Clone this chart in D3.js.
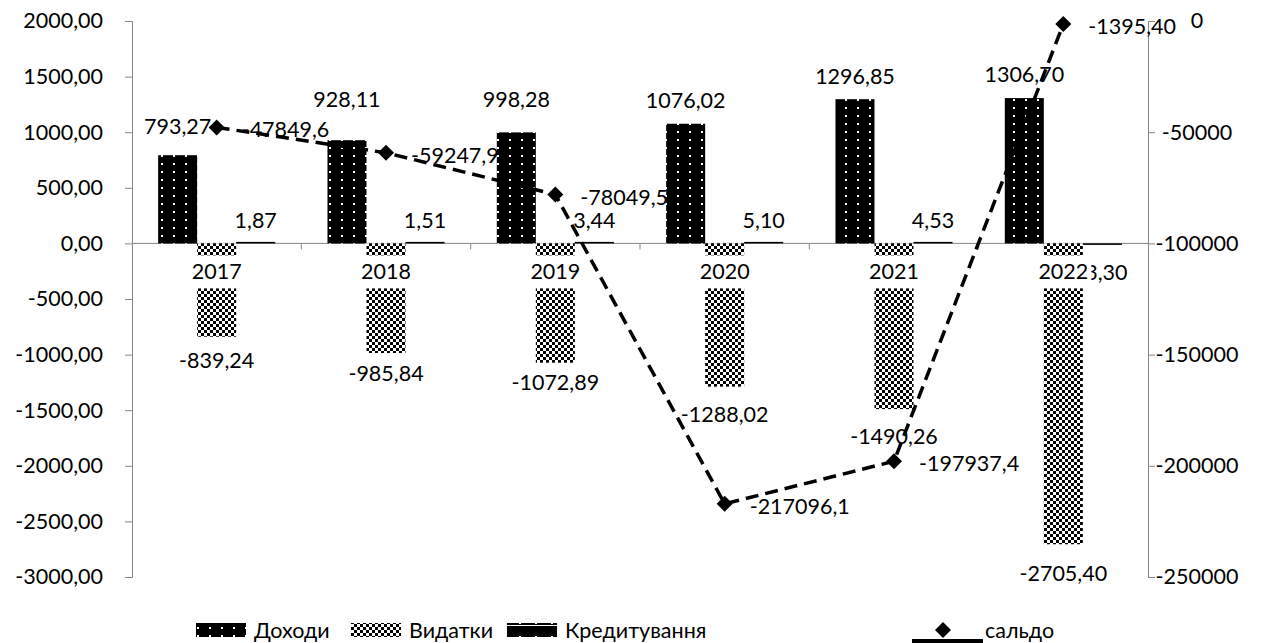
<!DOCTYPE html>
<html>
<head>
<meta charset="utf-8">
<script src="https://cdn.jsdelivr.net/npm/d3@7"></script>
<style>
  body { margin: 0; background: #fff; }
  svg text { font-family: Lato, "Open Sans", sans-serif; font-size: 21.5px; fill: #000; }
</style>
</head>
<body>
<div id="chart"></div>
<script>
// budget data
const years = ['2017', '2018', '2019', '2020', '2021', '2022'];
const seriesNames = ['Доходи', 'Видатки', 'Кредитування'];
const income = [793.27, 928.11, 998.28, 1076.02, 1296.85, 1306.70];
const spending = [-839.24, -985.84, -1072.89, -1288.02, -1490.26, -2705.40];
const lending = [1.87, 1.51, 3.44, 5.10, 4.53, -3.30];
const balance = [-47849.6, -59247.9, -78049.5, -217096.1, -197937.4, -1395.40];
const balanceLabels = ['-47849,6', '-59247,9', '-78049,5', '-217096,1', '-197937,4', '-1395,40'];
const leftTicks = [-3000, -2500, -2000, -1500, -1000, -500, 0, 500, 1000, 1500, 2000];
const rightTicks = [-250000, -200000, -150000, -100000, -50000, 0];

// label nudges (pixels), the original labels were moved by hand
const incomeLift = [29, 41, 33, 24, 23, 24];
const spendingDrop = [23, 20, 19, 27, 27, 29];

const width = 1275, height = 643;
const axisColor = '#868686';

const loc = d3.formatLocale({decimal: ',', thousands: '', grouping: [3], currency: ['', ''], minus: '-'});
const f2 = loc.format('.2f');
const f0 = loc.format('d');

const svg = d3.select('#chart').append('svg')
    .attr('width', width)
    .attr('height', height);

const defs = svg.append('defs');

// Доходи: black with white dots
const pInc = defs.append('pattern').attr('id', 'pInc')
    .attr('patternUnits', 'userSpaceOnUse').attr('width', 12).attr('height', 8);
pInc.append('rect').attr('width', 12).attr('height', 8).attr('fill', '#000');
pInc.append('rect').attr('x', 5).attr('y', 3).attr('width', 2).attr('height', 2).attr('fill', '#fff');

// Видатки: checks
const pSp = defs.append('pattern').attr('id', 'pSp')
    .attr('patternUnits', 'userSpaceOnUse').attr('width', 6).attr('height', 6);
pSp.append('rect').attr('width', 6).attr('height', 6).attr('fill', '#fff');
pSp.append('rect').attr('x', 0).attr('y', 0).attr('width', 3).attr('height', 3).attr('fill', '#000');
pSp.append('rect').attr('x', 3).attr('y', 3).attr('width', 3).attr('height', 3).attr('fill', '#000');

// Кредитування: black with a white stripe (legend swatch)
const pLe = defs.append('pattern').attr('id', 'pLe')
    .attr('patternUnits', 'userSpaceOnUse').attr('width', 16).attr('height', 14);
pLe.append('rect').attr('width', 16).attr('height', 14).attr('fill', '#000');
pLe.append('rect').attr('x', 0).attr('y', 9).attr('width', 16).attr('height', 1).attr('fill', '#fff');
pLe.append('rect').attr('x', 7).attr('y', 6).attr('width', 2).attr('height', 2).attr('fill', '#fff');

const fills = ['url(#pInc)', 'url(#pSp)', 'url(#pLe)'];
const barFills = ['url(#pInc)', 'url(#pSp)', '#000'];

const x = d3.scaleBand().domain(years).range([132, 1148]);
const xs = d3.scaleBand().domain(seriesNames).range([0, x.bandwidth()]).paddingOuter(0.67);
const yL = d3.scaleLinear().domain([-3000, 2000]).range([577, 21]);
const yR = d3.scaleLinear().domain([-250000, 0]).range([577, 21]);
const y0 = yL(0);

// left axis
const gL = svg.append('g')
    .attr('transform', 'translate(132,0)')
    .call(d3.axisLeft(yL).tickValues(leftTicks).tickFormat(f2).tickSize(7).tickPadding(22));

// right axis
const gR = svg.append('g')
    .attr('transform', 'translate(1148,0)')
    .call(d3.axisRight(yR).tickValues(rightTicks).tickFormat(f0).tickSize(7));
gR.selectAll('text').attr('text-anchor', 'middle').attr('x', 49);

[gL, gR].forEach(g => {
    g.select('.domain').attr('stroke', axisColor);
    g.selectAll('.tick line').attr('stroke', axisColor);
    g.selectAll('text').attr('font-family', null).attr('font-size', null);
});

// category axis line with ticks between categories
svg.append('line')
    .attr('x1', 132).attr('x2', 1148).attr('y1', y0).attr('y2', y0)
    .attr('stroke', axisColor);
svg.append('g').selectAll('line')
    .data(years.slice(1))
    .join('line')
    .attr('x1', d => x(d)).attr('x2', d => x(d))
    .attr('y1', y0).attr('y2', y0 + 6)
    .attr('stroke', axisColor);

// bars
const seriesVals = [income, spending, lending];
seriesNames.forEach((name, i) => {
    svg.append('g').selectAll('rect')
        .data(years.map((yr, j) => ({yr, v: seriesVals[i][j]})))
        .join('rect')
        .attr('x', d => x(d.yr) + xs(name))
        .attr('width', xs.bandwidth())
        .attr('y', d => d.v >= 0 ? Math.min(yL(d.v), y0 - 1.5) : y0)
        .attr('height', d => Math.max(Math.abs(yL(d.v) - y0), 1.5))
        .attr('fill', barFills[i]);
});

// bar labels
svg.append('g').selectAll('text')
    .data(income)
    .join('text')
    .attr('x', (d, j) => x(years[j]) + xs('Доходи') + xs.bandwidth() / 2)
    .attr('y', (d, j) => yL(d) - incomeLift[j])
    .attr('text-anchor', 'middle')
    .attr('dominant-baseline', 'central')
    .text(d => f2(d));

svg.append('g').selectAll('text')
    .data(spending)
    .join('text')
    .attr('x', (d, j) => x(years[j]) + xs('Видатки') + xs.bandwidth() / 2)
    .attr('y', (d, j) => yL(d) + spendingDrop[j])
    .attr('text-anchor', 'middle')
    .attr('dominant-baseline', 'central')
    .text(d => f2(d));

svg.append('g').selectAll('text')
    .data(lending)
    .join('text')
    .attr('x', (d, j) => x(years[j]) + xs('Кредитування') + xs.bandwidth() / 2)
    .attr('y', d => d >= 0 ? y0 - 23 : y0 + 29)
    .attr('text-anchor', 'middle')
    .attr('dominant-baseline', 'central')
    .text(d => f2(d));

// category labels, white box behind like the original
const cat = svg.append('g').selectAll('g')
    .data(years)
    .join('g')
    .attr('transform', d => `translate(${x(d) + x.bandwidth() / 2},${y0 + 28})`);
cat.append('rect')
    .attr('x', -28).attr('y', -16).attr('width', 56).attr('height', 33)
    .attr('fill', '#fff');
cat.append('text')
    .attr('text-anchor', 'middle')
    .attr('dominant-baseline', 'central')
    .text(d => d);

// balance line (secondary axis)
const line = d3.line()
    .x((d, j) => x(years[j]) + x.bandwidth() / 2)
    .y(d => yR(d));

svg.append('path')
    .datum(balance)
    .attr('d', line)
    .attr('fill', 'none')
    .attr('stroke', '#000')
    .attr('stroke-width', 3.5)
    .attr('stroke-dasharray', '13,7');

const diamond = 'M0,-8L8,0L0,8L-8,0Z';
svg.append('g').selectAll('path')
    .data(balance)
    .join('path')
    .attr('transform', (d, j) => `translate(${x(years[j]) + x.bandwidth() / 2},${yR(d)})`)
    .attr('d', diamond)
    .attr('fill', '#000');

svg.append('g').selectAll('text')
    .data(balance)
    .join('text')
    .attr('x', (d, j) => x(years[j]) + x.bandwidth() / 2 + 25)
    .attr('y', d => yR(d) + 2)
    .attr('dominant-baseline', 'central')
    .text((d, j) => balanceLabels[j]);

// legend
const legY = 630;
const legItems = [
    {name: 'Доходи', fill: fills[0], x: 196},
    {name: 'Видатки', fill: fills[1], x: 351},
    {name: 'Кредитування', fill: fills[2], x: 507}
];
const leg = svg.append('g');
legItems.forEach(it => {
    leg.append('rect')
        .attr('x', it.x).attr('y', legY - 7).attr('width', 50).attr('height', 14)
        .attr('fill', it.fill);
    leg.append('text')
        .attr('x', it.x + 58).attr('y', legY)
        .attr('dominant-baseline', 'central')
        .text(it.name);
});
leg.append('line')
    .attr('x1', 912).attr('x2', 983).attr('y1', 641).attr('y2', 641)
    .attr('stroke', '#000').attr('stroke-width', 4);
leg.append('path')
    .attr('transform', `translate(943,${legY})`)
    .attr('d', diamond)
    .attr('fill', '#000');
leg.append('text')
    .attr('x', 985).attr('y', legY)
    .attr('dominant-baseline', 'central')
    .text('сальдо');
</script>
</body>
</html>
